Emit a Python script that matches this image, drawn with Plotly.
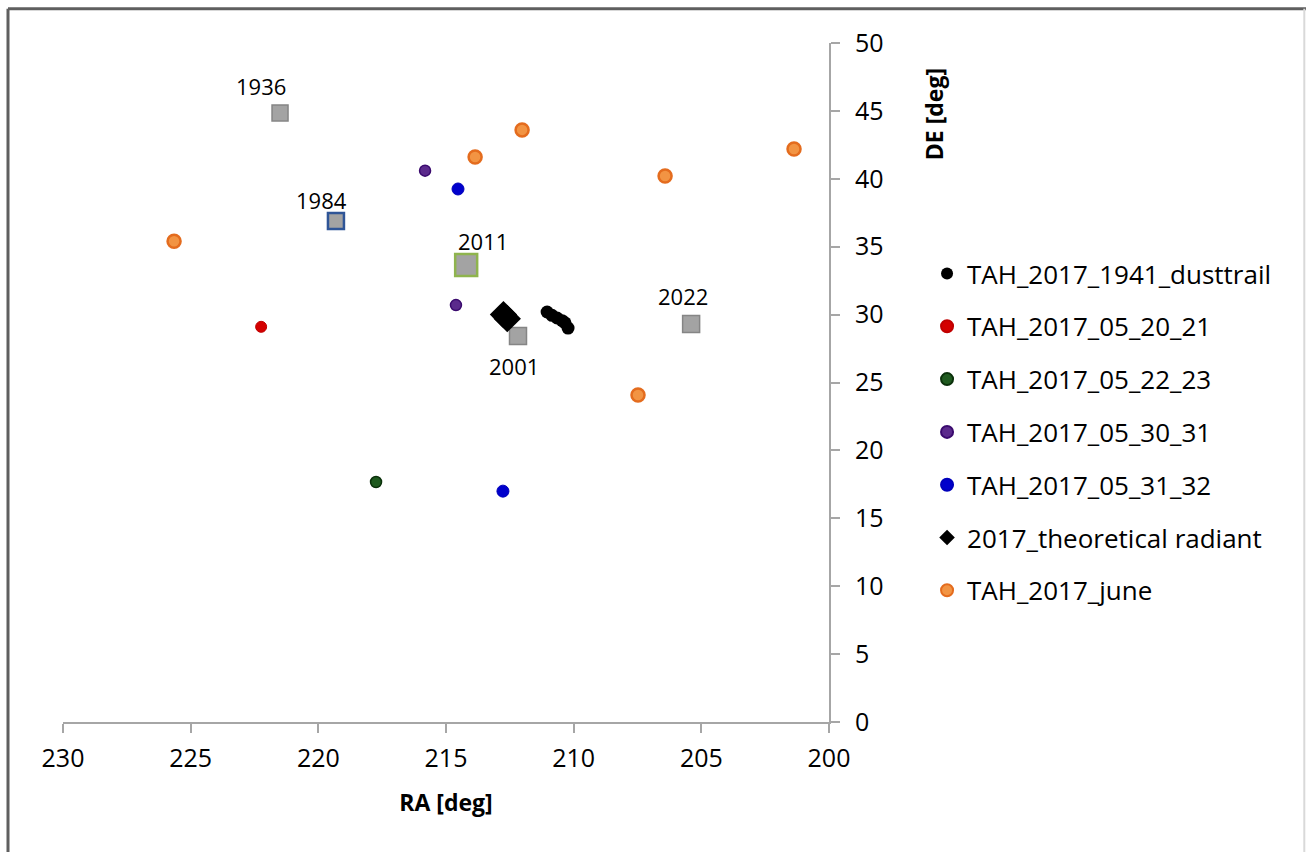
import plotly.graph_objects as go

# ---- data (RA, DE in degrees) ----
dust_ra = [211.04, 210.85, 210.65, 210.45, 210.34, 210.22]
dust_de = [30.19, 29.95, 29.75, 29.55, 29.40, 29.01]

r0521_ra = [222.24]
r0521_de = [29.10]

r0523_ra = [217.74]
r0523_de = [17.67]

r0531_ra = [215.82, 214.61]
r0531_de = [40.60, 30.70]

r0532_ra = [214.53, 212.77]
r0532_de = [39.25, 17.00]

theo_ra = [212.75, 212.60]
theo_de = [30.00, 29.70]

june_ra = [225.65, 213.86, 212.02, 206.42, 201.37, 207.48]
june_de = [35.40, 41.60, 43.60, 40.20, 42.20, 24.08]

year_labels = ["1936", "1984", "2011", "2001", "2022"]
year_ra = [221.50, 219.31, 214.21, 212.18, 205.40]
year_de = [44.85, 36.89, 33.65, 28.42, 29.30]

# styling for year squares (not data)
year_size = [16, 16, 22, 17, 17]
year_line = ["#858585", "#2f5597", "#8fb44e", "#858585", "#858585"]
year_lw = [1.5, 2.5, 2.5, 1.5, 1.5]
label_shift = [(-19, 27), (-14, 21), (17, 24), (-4, -30), (-8, 28)]

FONT = "Open Sans"
TXT = "#000000"

fig = go.Figure()

fig.add_trace(go.Scatter(
    x=year_ra, y=year_de, mode="markers", showlegend=False, hoverinfo="x+y",
    marker=dict(symbol="square", size=year_size, color="#a3a3a3", opacity=1,
                line=dict(color=year_line, width=year_lw))))

series = [
    ("TAH_2017_1941_dusttrail", dust_ra, dust_de, "circle", 13, "#000000", "#000000", 0),
    ("TAH_2017_05_20_21", r0521_ra, r0521_de, "circle", 11, "#d40000", "#c00000", 1),
    ("TAH_2017_05_22_23", r0523_ra, r0523_de, "circle", 11, "#1f5a1f", "#0a300a", 1.5),
    ("TAH_2017_05_30_31", r0531_ra, r0531_de, "circle", 11, "#5b2a8c", "#3a0a6e", 1.5),
    ("TAH_2017_05_31_32", r0532_ra, r0532_de, "circle", 12, "#0000cc", "#0000bb", 1),
    ("2017_theoretical radiant", theo_ra, theo_de, "diamond", 21, "#000000", "#000000", 0),
    ("TAH_2017_june", june_ra, june_de, "circle", 13, "#f29443", "#e46c1e", 2.5),
]
for i, (name, xs, ys, sym, sz, fill, lc, lw) in enumerate(series):
    fig.add_trace(go.Scatter(
        x=xs, y=ys, mode="markers", name=name, legendgroup=f"g{i}",
        marker=dict(symbol=sym, size=sz, color=fill, opacity=1,
                    line=dict(color=lc, width=lw))))

for lab, x, y, (dx, dy) in zip(year_labels, year_ra, year_de, label_shift):
    fig.add_annotation(x=x, y=y, text=lab, showarrow=False, xshift=dx, yshift=dy,
                       font=dict(family=FONT, size=22, color=TXT))

# y axis title placed near top, as in the reference
fig.add_annotation(xref="paper", yref="paper", x=1.137, y=0.895, text="DE [deg]",
                   xanchor="center", yanchor="middle",
                   textangle=-90, showarrow=False,
                   font=dict(family=FONT, size=23, color=TXT, weight="bold"))

# outer frame
frame = dict(xref="paper", yref="paper", type="line")
fig.add_shape(**frame, x0=-0.0718, x1=1.625, y0=1.0505, y1=1.0505,
              line=dict(color="#5f5f5f", width=3))
fig.add_shape(**frame, x0=-0.0718, x1=-0.0718, y0=-0.2, y1=1.0505,
              line=dict(color="#5f5f5f", width=3))
fig.add_shape(**frame, x0=1.6205, x1=1.6205, y0=-0.2, y1=1.0505,
              line=dict(color="#d9d9d9", width=2))

fig.update_layout(
    width=1306, height=852,
    margin=dict(l=63, r=477, t=43, b=130),
    paper_bgcolor="white", plot_bgcolor="white",
    font=dict(family=FONT, size=25, color=TXT),
    showlegend=True,
    legend=dict(x=1.128, y=0.695, xanchor="left", yanchor="top",
                font=dict(family=FONT, size=26, color=TXT),
                traceorder="grouped", tracegroupgap=16, itemsizing="constant",
                bgcolor="rgba(0,0,0,0)"),
    xaxis=dict(range=[230, 200], tickmode="array",
               tickvals=[230, 225, 220, 215, 210, 205, 200],
               showgrid=False, zeroline=False, showline=True,
               linecolor="#a6a6a6", linewidth=2,
               ticks="outside", ticklen=9, tickcolor="#a6a6a6", tickwidth=1.5,
               ticklabelstandoff=4,
               tickfont=dict(family=FONT, size=25, color=TXT),
               title=dict(text="RA [deg]", standoff=22,
                          font=dict(family=FONT, size=23, color=TXT, weight="bold"))),
    yaxis=dict(range=[0, 50], side="right", tickmode="array",
               tickvals=[0, 5, 10, 15, 20, 25, 30, 35, 40, 45, 50],
               showgrid=False, zeroline=False, showline=True,
               linecolor="#a6a6a6", linewidth=2,
               ticks="outside", ticklen=9, tickcolor="#a6a6a6", tickwidth=1.5,
               ticklabelstandoff=10,
               tickfont=dict(family=FONT, size=25, color=TXT)),
)

fig.write_html("out.html")
